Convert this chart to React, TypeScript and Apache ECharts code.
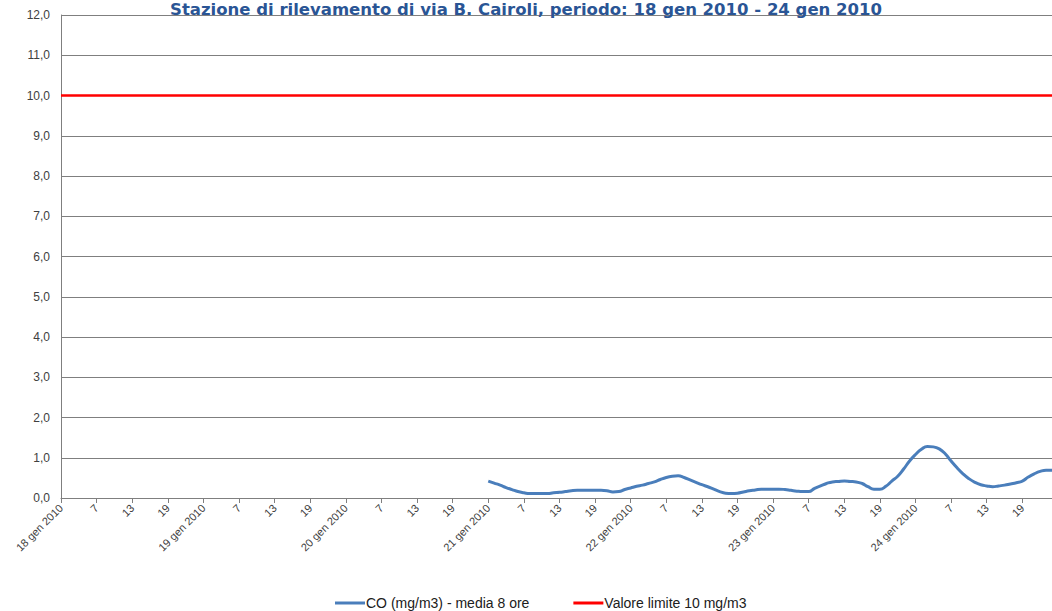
import React, { useEffect, useRef } from "react";
import * as echarts from "echarts";

const TITLE = "Stazione di rilevamento di via B. Cairoli, periodo: 18 gen 2010 - 24 gen 2010";
const DAYS = ["18 gen 2010", "19 gen 2010", "20 gen 2010", "21 gen 2010", "22 gen 2010", "23 gen 2010", "24 gen 2010"];
const HOURS = Array.from({ length: 24 }, (_, i) => i + 1);
const SERIES_CO = "CO (mg/m3) - media 8 ore";
const SERIES_LIMIT = "Valore limite 10 mg/m3";
const LIMIT_VALUE = 10;
// No data for 18, 19, 20 gen (72 hours); hourly values from 21 gen 2010 hour 1
const MISSING_HOURS = 72;
const coValues: number[] = [
  // 21 gen
  0.42, 0.37, 0.32, 0.26, 0.21, 0.16, 0.13, 0.11, 0.11, 0.11, 0.11, 0.13,
  0.14, 0.16, 0.18, 0.19, 0.19, 0.19, 0.19, 0.19, 0.18, 0.15, 0.16, 0.21,
  // 22 gen
  0.25, 0.29, 0.32, 0.36, 0.40, 0.46, 0.51, 0.54, 0.55, 0.51, 0.45, 0.39,
  0.33, 0.28, 0.22, 0.16, 0.12, 0.11, 0.12, 0.15, 0.18, 0.20, 0.22, 0.22,
  // 23 gen
  0.22, 0.22, 0.21, 0.19, 0.17, 0.16, 0.16, 0.24, 0.30, 0.36, 0.40, 0.41,
  0.42, 0.41, 0.40, 0.36, 0.28, 0.22, 0.22, 0.29, 0.42, 0.54, 0.72, 0.92,
  // 24 gen
  1.08, 1.21, 1.28, 1.27, 1.22, 1.10, 0.92, 0.75, 0.60, 0.48, 0.39, 0.33,
  0.30, 0.28, 0.30, 0.32, 0.35, 0.38, 0.42, 0.52, 0.60, 0.66, 0.69, 0.69,
];

export default function App() {
  const ref = useRef<HTMLDivElement>(null);
  useEffect(() => {
    if (!ref.current) return;
    const chart = echarts.init(ref.current, null, { renderer: "svg" });
    const categories: string[] = [];
    DAYS.forEach((d) => HOURS.forEach((h) => categories.push(h === 1 ? d : String(h))));
    const coData: (number | null)[] = [...Array(MISSING_HOURS).fill(null), ...coValues];
    const limitData = categories.map(() => LIMIT_VALUE);
    const labelColor = "#404040";
    chart.setOption({
      animation: false,
      backgroundColor: "#ffffff",
      title: {
        text: TITLE,
        left: "center",
        top: -4,
        textStyle: { fontFamily: "DejaVu Sans", fontWeight: "bold", fontSize: 16.5, color: "#2A5595" },
      },
      grid: { left: 61, right: -3, top: 15, bottom: 113, containLabel: false },
      legend: {
        left: 330,
        bottom: -4,
        itemGap: 44,
        itemWidth: 30,
        itemHeight: 3,
        icon: "rect",
        textStyle: { fontFamily: "Liberation Sans", fontSize: 14, color: "#202020", padding: [0, 0, 0, -4] },
        data: [SERIES_CO, SERIES_LIMIT],
      },
      xAxis: {
        type: "category",
        boundaryGap: false,
        data: categories,
        axisLine: { lineStyle: { color: "#7f7f7f", width: 1 } },
        axisTick: { interval: 5, length: 5, lineStyle: { color: "#7f7f7f" } },
        axisLabel: {
          interval: 5,
          rotate: 45,
          margin: 8,
          fontFamily: "Liberation Sans",
          fontSize: 11,
          color: labelColor,
        },
        splitLine: { show: false },
      },
      yAxis: {
        type: "value",
        min: 0,
        max: 12,
        interval: 1,
        axisLine: { show: true, lineStyle: { color: "#7f7f7f", width: 1 } },
        axisTick: { show: false },
        axisLabel: {
          margin: 11,
          fontFamily: "Liberation Sans",
          fontSize: 12,
          color: labelColor,
          formatter: (v: number) => v.toFixed(1).replace(".", ","),
        },
        splitLine: { lineStyle: { color: "#7f7f7f", width: 1 } },
      },
      series: [
        {
          name: SERIES_CO,
          type: "line",
          data: coData,
          smooth: 0.5,
          showSymbol: false,
          symbol: "none",
          connectNulls: false,
          lineStyle: { color: "#4A7EBB", width: 3 },
          itemStyle: { color: "#4A7EBB" },
          z: 3,
        },
        {
          name: SERIES_LIMIT,
          type: "line",
          data: limitData,
          showSymbol: false,
          symbol: "none",
          lineStyle: { color: "#FF0000", width: 2.5 },
          itemStyle: { color: "#FF0000" },
          z: 2,
        },
      ],
    });
    return () => chart.dispose();
  }, []);
  return <div ref={ref} style={{ position: "fixed", left: 0, top: 0, width: 1052, height: 611 }} />;
}
